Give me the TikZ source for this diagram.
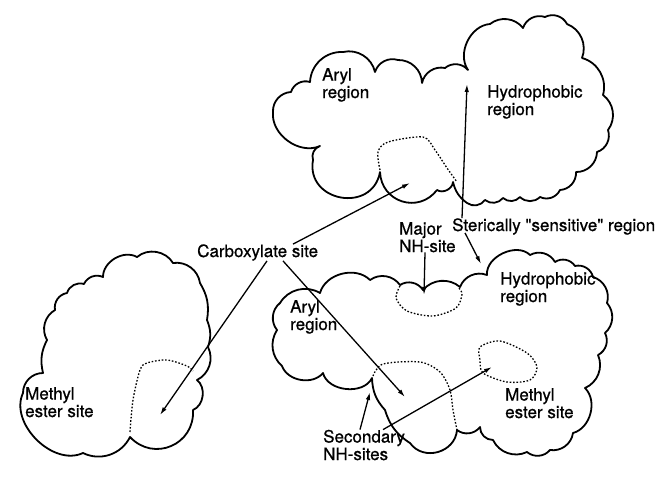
\documentclass[tikz,border=0pt]{standalone}
\usepackage{fontspec}
\setmainfont{TeX Gyre Heros}[FakeBold=0.7]
\usetikzlibrary{arrows.meta}
\begin{document}
\begin{tikzpicture}[x=1pt, y=-1pt, >={Latex[length=8pt,width=4.5pt]},
  cloud/.style={line width=1.8pt, line join=round},
  pocket/.style={line width=1.3pt, dash pattern=on 1.6pt off 1.8pt},
  lbl/.style={font=\fontsize{17}{17.5}\selectfont, align=left, inner sep=0pt, anchor=base west},
  pointer/.style={->, line width=1.3pt},
  every to/.style={bend left=45}]
\useasboundingbox (0,0) rectangle (663,480);
% upper receptor map
\draw[cloud] (273,112) to (291,92) to (310,82) to (343,52) to (375,72) to (398,60) to (422,83)
  to (445,68) to (468,70) to[bend left=60] (490,24) to (523,28) to (545,17) to (567,24)
  to (582,58) to (603,95) to (608,130) to (597,152) to (576,172) to (560,190)
  to (540,197) to (520,197) to (503,198) to (485,200) to (467,203)
  to[bend left=20] (453,182) to[bend left=60] (437,190)
  to[bend left=70, looseness=1.3] (380,172) to[bend left=90, looseness=1.6] (313,160)
  to (320,146) to[bend left=60] (273,112) -- cycle;
\draw[pocket] plot[smooth] coordinates {(380,170) (378,152) (388,142) (423,137) (435,150) (447,168) (457,182)};
% lower receptor map
\draw[cloud] (280,303) to (320,293) to[bend left=60] (370,280) to (400,285)
  to (423,290) to (460,287) to (487,275) to[bend left=70] (530,255) to (555,262)
  to (575,266) to (593,277) to (607,303) to (605,333) to (598,355) to (585,388)
  to[bend left=60] (573,433) to (550,450) to (527,452) to (493,440) to (480,427)
  to (457,430) to[bend left=70, looseness=1.2] (410,443) to[bend left=20] (385,410)
  to[bend left=20] (372,378) to[bend left=70] (323,373) to[bend left=60] (282,366)
  to[bend left=40] (277,330) to (280,303) -- cycle;
\draw[pocket] plot[smooth] coordinates {(400,286) (396,298) (407,311) (433,316) (456,308) (462,294) (458,287)};
\draw[pocket] plot[smooth] coordinates {(373,376) (383,364) (420,362) (440,372) (450,390) (453,410) (457,430)};
\draw[pocket] plot[smooth cycle] coordinates {(480,347) (500,341) (527,353) (537,367) (530,380) (507,382) (483,373) (480,360)};
% left receptor map
\draw[cloud] (83,453) to[bend left=70] (23,393) to (43,373) to[bend left=20] (47,340)
  to (55,310) to (67,293) to (84,284) to (103,277) to[bend left=60] (137,257) to[bend left=50] (173,263)
  to (200,283) to[bend left=20] (207,320) to[bend left=20] (208,347) to (197,380)
  to[bend left=60] (193,410) to[bend left=70, looseness=1.3] (130,437) to (83,453) -- cycle;
\draw[pocket] plot[smooth] coordinates {(130,432) (133,400) (140,370) (147,363) (167,360) (187,366) (193,371)};
% labels
\node[lbl] (aryltop) at (322,98) {Aryl\\region};
\node[lbl] (hydrotop) at (487,115) {Hydrophobic\\region};
\node[lbl] (steric) at (452,231) {Sterically \textquotedbl sensitive\textquotedbl\ region};
\node[lbl] (carbox) at (197,257) {Carboxylate site};
\node[lbl] (majornh) at (399,252) {Major\\NH-site};
\node[lbl] (hydrobot) at (500,302) {Hydrophobic\\region};
\node[lbl] (arylbot) at (290,330) {Aryl\\region};
\node[lbl] (methylbot) at (505,418) {Methyl\\ester site};
\node[lbl] (secnh) at (323,460) {Secondary\\NH-sites};
\node[lbl] (methylleft) at (25,417) {Methyl\\ester site};
% arrow targets
\coordinate (hydrogap) at (467,84);
\coordinate (hydrobay) at (481,264);
\coordinate (carbtop) at (410,183);
\coordinate (carbleft) at (160,415);
\coordinate (carbbot) at (405,397);
\coordinate (nhmajor) at (424,295);
\coordinate (nhsec) at (370,392);
\coordinate (esterbot) at (492,367);
% arrows
\draw[pointer] ([xshift=10pt]steric.north west) -- (hydrogap);
\draw[pointer] ([xshift=13pt,yshift=2pt]steric.south west) -- (hydrobay);
\draw[pointer] ([xshift=96pt]carbox.north west) -- (carbtop);
\draw[pointer] ([xshift=70pt]carbox.south west) -- (carbleft);
\draw[pointer] ([xshift=86pt]carbox.south west) -- (carbbot);
\draw[pointer] ([xshift=26pt]majornh.south west) -- (nhmajor);
\draw[pointer] ([xshift=37pt]secnh.north west) -- (nhsec);
\draw[pointer] ([xshift=60pt]secnh.north west) -- (esterbot);
\end{tikzpicture}
\end{document}
